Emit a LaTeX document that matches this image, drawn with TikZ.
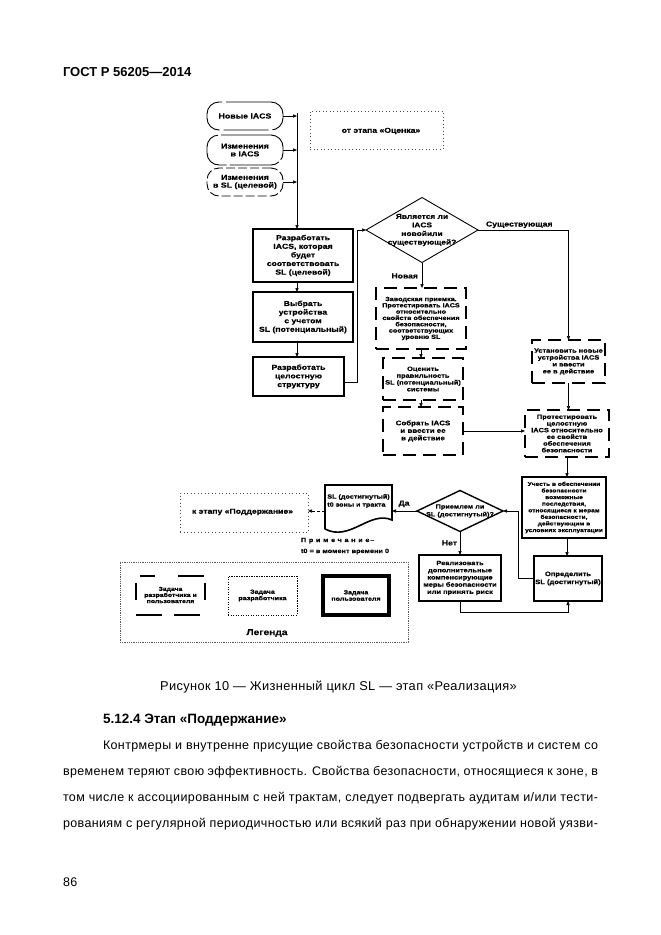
\documentclass[tikz,border=0pt]{standalone}
\usepackage{fontspec}
\setmainfont{Liberation Sans}
\newfontfamily\dg[FakeStretch=1.2,FakeBold=0.35]{Liberation Sans}
\newfontfamily\bodyf[LetterSpace=3]{Liberation Sans}
\usetikzlibrary{shapes.geometric,arrows.meta}
\newcommand\dfs[2]{\fontsize{#1}{#2}\selectfont}
\begin{document}
\begin{tikzpicture}[x=1pt,y=-1pt,
  every node/.style={inner sep=0pt, outer sep=0pt},
  txt/.style={align=center, font=\dg\bfseries\dfs{7}{8}},
  ubox/.style={draw, line width=2.6pt, txt},
  dbox/.style={draw, line width=1.3pt, dash pattern=on 13pt off 7pt, txt},
  term/.style={draw, rounded corners=12pt, line width=0.9pt, txt},
  dotbox/.style={draw, line width=0.8pt, gray!60!black, dash pattern=on 1pt off 2.5pt},
  ln/.style={line width=0.7pt},
  arr/.style={ln, -{Triangle[length=4pt,width=3.2pt]}},
  lbl/.style={font=\dg\bfseries\dfs{7.2}{8}},
  body/.style={font=\bodyf\dfs{12.5}{15}},
]
\useasboundingbox (0,0) rectangle (661,935);

% page text
\node[anchor=base west, font=\bfseries\dfs{13}{15}] (hdr) at (63,76) {ГОСТ Р 56205—2014};
\node[anchor=base, font=\bodyf\dfs{12.8}{15}] (cap) at (338.5,690) {Рисунок 10 — Жизненный цикл SL — этап «Реализация»};
\node[anchor=base west, font=\bfseries\dfs{13.5}{15}] (sec) at (103,723) {5.12.4 Этап «Поддержание»};
\node[anchor=base west, body] (p1) at (103,749) {\makebox[495pt][s]{Контрмеры и внутренне присущие свойства безопасности устройств и систем со}};
\node[anchor=base west, body] (p2) at (63,775) {\makebox[535pt][s]{временем теряют свою эффективность. Свойства безопасности, относящиеся к зоне, в}};
\node[anchor=base west, body] (p3) at (63,801) {\makebox[535pt][s]{том числе к ассоциированным с ней трактам, следует подвергать аудитам и/или тести-}};
\node[anchor=base west, body] (p4) at (63,827) {\makebox[535pt][s]{рованиям с регулярной периодичностью или всякий раз при обнаружении новой уязви-}};
\node[anchor=base west, body] (pg) at (63,886) {86};

% terminals
\node[term, dash pattern=on 45pt off 4pt, minimum width=76pt, minimum height=28pt, font=\dg\bfseries\dfs{7.3}{8}] (T1) at (245,116) {Новые IACS};
\node[term, dash pattern=on 50pt off 3pt, minimum width=76pt, minimum height=30pt, font=\dg\bfseries\dfs{7.3}{7.8}] (T2) at (245,150) {Изменения\\в IACS};
\node[term, dash pattern=on 9pt off 3pt, minimum width=76pt, minimum height=28pt, font=\dg\bfseries\dfs{7.3}{7.8}] (T3) at (245,182) {Изменения\\в SL (целевой)};

\node[dotbox, minimum width=133pt, minimum height=38pt] (Ots) at (376.5,130) {};
\node[txt, font=\dg\bfseries\dfs{7.2}{8}] (Otst) at (381,131) {от этапа «Оценка»};

\coordinate (tr) at (297,113);
\draw[arr] (T1.east) -- (T1.east -| tr);
\draw[arr] (T2.east) -- (T2.east -| tr);
\draw[arr] (T3.east) -- (T3.east -| tr);

% left column
\node[ubox, minimum width=100pt, minimum height=53pt, font=\dg\bfseries\dfs{7.2}{8.6}] (A) at (303,255.5) {Разработать\\IACS, которая\\будет\\соответствовать\\SL (целевой)};
\node[ubox, minimum width=100pt, minimum height=50pt, font=\dg\bfseries\dfs{7.2}{8.6}] (B) at (303,317) {Выбрать\\устройства\\с учетом\\SL (потенциальный)};
\node[ubox, minimum width=91pt, minimum height=39pt, font=\dg\bfseries\dfs{7.2}{8.6}] (C) at (298.5,376.5) {Разработать\\целостную\\структуру};

\draw[arr] (tr) -- (tr |- A.north);
\draw[arr] (A.south -| tr) -- (B.north -| tr);
\draw[arr] (B.south -| tr) -- (C.north -| tr);

% decision 1
\node[draw, diamond, line width=0.9pt, minimum width=112pt, minimum height=65pt] (Q1) at (422,230) {};
\node[txt, font=\dg\bfseries\dfs{7}{8.6}] (Q1t) at (422,230) {Является ли\\IACS\\новойили\\существующей?};
\coordinate (cq) at (357,382);
\draw[arr] (C.east |- cq) -- (cq) |- (Q1.west);

% middle column
\node[dbox, minimum width=90pt, minimum height=61pt, font=\dg\bfseries\dfs{6}{6.3}] (D) at (421,318.5) {Заводская приемка.\\Протестировать IACS\\относительно\\свойств обеспечения\\безопасности,\\соответствующих\\уровню SL};
\node[dbox, minimum width=80pt, minimum height=42pt, font=\dg\bfseries\dfs{6.2}{6.8}] (E) at (423,379) {Оценить\\правильность\\SL (потенциальный)\\системы};
\node[dbox, minimum width=80pt, minimum height=48pt, font=\dg\bfseries\dfs{6.6}{7.5}] (F) at (423,431) {Собрать IACS\\и ввести ее\\в действие};

\draw[arr] (Q1.south) -- (Q1.south |- D.north);
\node[lbl, anchor=east] (lnew) at (418,276) {Новая};
\draw[arr] (D.south) -- (D.south |- E.north);
\draw[arr] (E.south -| D.south) -- (F.north -| D.south);

% right column
\node[dbox, minimum width=73pt, minimum height=43pt, font=\dg\bfseries\dfs{6.2}{6.9}] (G) at (568.5,361.5) {Установить новые\\устройства IACS\\и ввести\\ее в действие};
\node[dbox, minimum width=84pt, minimum height=47pt, font=\dg\bfseries\dfs{6.2}{6.7}] (H) at (567,433.5) {Протестировать\\целостную\\IACS относительно\\ее свойств\\обеспечения\\безопасности};
\node[ubox, minimum width=84pt, minimum height=61pt, font=\dg\bfseries\dfs{5.5}{6.6}] (I) at (564,507.5) {Учесть в обеспечении\\безопасности\\возможные\\последствия,\\относящиеся к мерам\\безопасности,\\действующим в\\условиях эксплуатации};
\node[ubox, minimum width=68pt, minimum height=45pt, font=\dg\bfseries\dfs{6.3}{8}] (J) at (568,578.5) {Определить\\SL (достигнутый)};

\draw[arr] (Q1.east) -| (G.north);
\node[lbl, anchor=south west] (lex) at (486,228) {Существующая};
\draw[arr] (F.east) -- (F.east -| H.west);
\draw[arr] (G.south) -- (G.south |- H.north);
\draw[arr] (H.south) -- (H.south |- I.north);
\draw[arr] (I.south -| H.south) -- (J.north -| H.south);

% decision 2
\node[draw, diamond, line width=1.4pt, minimum width=86pt, minimum height=41pt] (Q2) at (460,511) {};
\node[txt, font=\dg\bfseries\dfs{6.1}{7.8}] (Q2t) at (460,511) {Приемлем ли\\SL (достигнутый)?};
\coordinate (jq) at (518,578);
\draw[arr] (J.west) -- (J.west -| jq) |- (Q2.east);

\node[ubox, minimum width=82pt, minimum height=46pt, font=\dg\bfseries\dfs{6.2}{7.2}] (L) at (460,578) {Реализовать\\дополнительные\\компенсирующие\\меры безопасности\\или принять риск};
\draw[arr] (Q2.south) -- (Q2.south |- L.north);
\node[lbl, anchor=east] (lno) at (457,543) {Нет};
\coordinate (lj) at (460,612);
\draw[arr] (L.south) -- (L.south |- lj) -| (J.south);

% document
\node[minimum width=67pt, minimum height=47pt] (doc) at (358.5,508.5) {};
\draw[line width=1.6pt] (325,529) -- (325,485) -- (392,485) -- (392,520) .. controls (370,510) and (350,542) .. (325,529);
\node[txt, font=\dg\bfseries\dfs{6}{8}, align=left] (doct) at (358.5,501) {SL (достигнутый)\\t0 зоны и тракта};
\draw[arr] (Q2.west) -- (Q2.west -| doc.east);
\node[lbl, anchor=south] (lda) at (404,507) {Да};

\node[dotbox, minimum width=128pt, minimum height=39pt] (P) at (244,512.5) {};
\node[txt, font=\dg\bfseries\dfs{7.2}{8}] (Pt) at (242.5,512) {к этапу «Поддержание»};
\draw[arr, dash pattern=on 3pt off 2pt] (Q2.west -| doc.west) -- (Q2.west -| P.east);

\node[anchor=base west, font=\dg\bfseries\dfs{6}{7}] (n1) at (301,542) {\addfontfeature{LetterSpace=45}Примечание\,–};
\node[anchor=base west, font=\dg\bfseries\dfs{6.1}{7}] (n2) at (301,553) {t0 = в момент времени 0};

% legend
\node[draw, line width=0.8pt, gray!70!black, densely dotted, minimum width=288pt, minimum height=80pt] (Leg) at (264,602) {};
\node[txt, font=\dg\bfseries\dfs{5.7}{6.1}] (L1) at (170.5,595) {Задача\\разработчика и\\пользователя};
\draw[line width=2pt] (140,576) -- (155,576) (178,576) -- (204,576)
  (136,583) -- (136,600) (205,583) -- (205,600)
  (136,615) -- (162,615) (174,615) -- (200,615);
\node[draw, line width=0.9pt, dash pattern=on 1.2pt off 1.3pt, minimum width=69pt, minimum height=39pt, txt, font=\dg\bfseries\dfs{5.9}{6.4}] (L2) at (262.5,595.5) {Задача\\разработчика};
\node[draw, line width=4pt, minimum width=66pt, minimum height=39pt, txt, font=\dg\bfseries\dfs{5.9}{6.4}] (L3) at (356,595.5) {Задача\\пользователя};
\node[txt, font=\dg\bfseries\dfs{8.5}{9}] (Legt) at (267,633) {Легенда};
\end{tikzpicture}
\end{document}
